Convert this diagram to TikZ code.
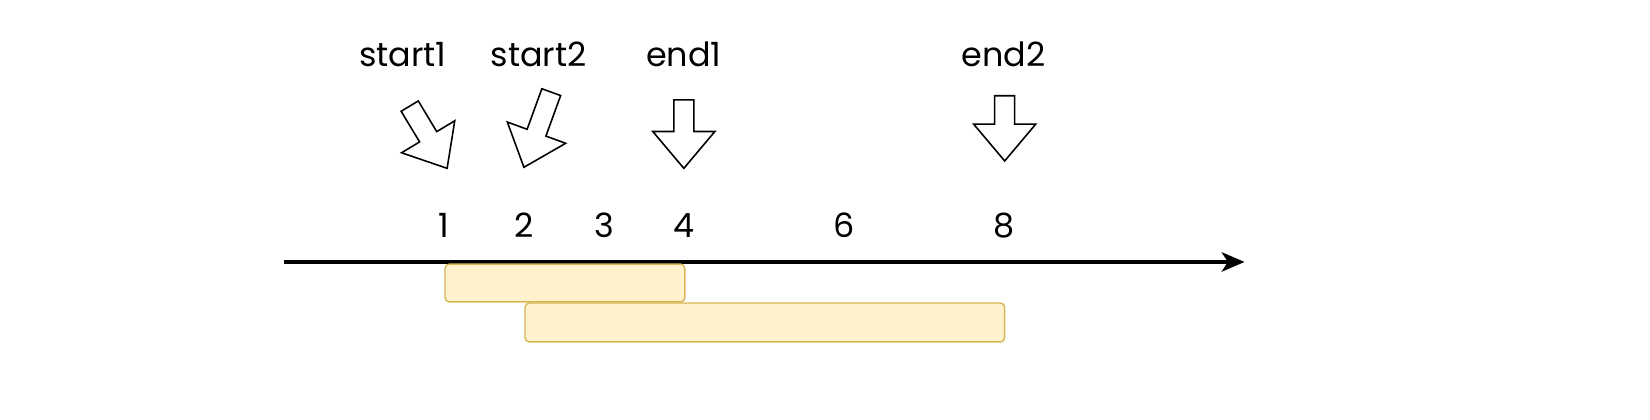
\documentclass[tikz,border=0pt]{standalone}
\usepackage{fontspec}
\setmainfont{Poppins}
\usetikzlibrary{arrows.meta}
\definecolor{barfill}{HTML}{FFF2CC}
\definecolor{barline}{HTML}{D6B656}
\tikzset{
  lbl/.style={font=\fontsize{19}{21}\selectfont, inner sep=0pt},
  bar/.style={draw=barline, fill=barfill, rounded corners=2.5pt, line width=0.8pt},
  blk/.style={draw=black, fill=white, line width=0.9pt, line join=miter}
}
\newcommand{\blkarrow}[3]{%
  \begin{scope}[shift={#1}, rotate=#2]
    \draw[blk] (0,0) -- (29.5,-35) -- (9.5,-35) -- (9.5,-#3) -- (-9.5,-#3) -- (-9.5,-35) -- (-29.5,-35) -- cycle;
  \end{scope}}

\begin{document}
\begin{tikzpicture}[x=0.02104cm, y=-0.02104cm]
\useasboundingbox (0,0) rectangle (1568.4,399.2);
\node[lbl] (start1) at (383,52) {start1};
\node[lbl] (start2) at (512,52) {start2};
\node[lbl] (end1) at (650,52) {end1};
\node[lbl] (end2) at (954,52) {end2};
\blkarrow{(425,160)}{31}{69}
\blkarrow{(498,159)}{-20}{76}
\blkarrow{(650,160)}{0}{65}
\blkarrow{(955,153)}{0}{62}
\foreach \v/\x in {1/422, 2/498, 3/574, 4/650, 6/802, 8/954}
  \node[lbl] (n\v) at (\x,214) {\v};
\coordinate (axs) at (270,249);
\coordinate (axe) at (1183,249);
\draw[line width=2pt, -{Stealth[length=13pt, width=11pt, inset=3.5pt]}] (axs) -- (axe);
\draw[bar] (423,251) rectangle (651,287);
\draw[bar] (499,288) rectangle (955,325);
\end{tikzpicture}
\end{document}
